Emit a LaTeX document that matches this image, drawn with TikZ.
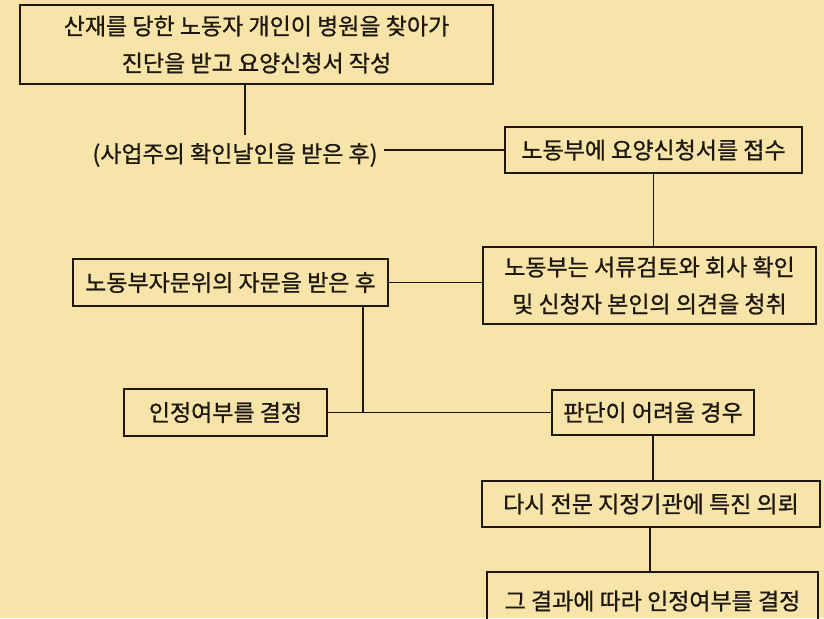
\documentclass[tikz,border=0pt]{standalone}
\usepackage{fontspec}
\newfontfamily\kr[FakeBold=0.9]{Noto Sans CJK KR}
\definecolor{paper}{RGB}{247,228,168}
\definecolor{ink}{RGB}{30,24,18}
\begin{document}
\begin{tikzpicture}[x=1pt,y=-1pt,
  box/.style={draw=ink,line width=2pt,inner sep=0pt,align=center,text=ink,
    font=\kr\fontsize{23}{37}\selectfont},
  lbl/.style={inner sep=0pt,text=ink,font=\kr\fontsize{23}{37}\selectfont},
  link/.style={draw=ink,line width=1.9pt}]
\clip (0,0) rectangle (824,618);
\fill[paper] (0,0) rectangle (824,618);
\useasboundingbox (0,0) rectangle (824,618);
\node[box,minimum width=473pt,minimum height=79pt] (b1) at (256.5,44.5)
  {산재를 당한 노동자 개인이 병원을 찾아가\\진단을 받고 요양신청서 작성};
\node[lbl] (l1) at (235,155) {(사업주의 확인날인을 받은 후)};
\node[box,minimum width=297pt,minimum height=46pt] (b2) at (653.5,150) {노동부에 요양신청서를 접수};
\node[box,minimum width=333pt,minimum height=77pt] (b4) at (649.5,285.5)
  {노동부는 서류검토와 회사 확인\\및 신청자 본인의 의견을 청취};
\node[box,minimum width=315pt,minimum height=47pt] (b5) at (230.5,282.5) {노동부자문위의 자문을 받은 후};
\node[box,minimum width=203pt,minimum height=47pt] (b6) at (225.5,412.5) {인정여부를 결정};
\node[box,minimum width=202pt,minimum height=45pt] (b7) at (653,412.5) {판단이 어려울 경우};
\node[box,minimum width=338pt,minimum height=46pt] (b8) at (651,504) {다시 전문 지정기관에 특진 의뢰};
\node[box,minimum width=331pt,minimum height=58pt] (b9) at (652.5,601) {그 결과에 따라 인정여부를 결정};
\coordinate (c1) at ([xshift=-11.5pt]b1.south |- 0,135);
\draw[link] ([xshift=-11.5pt]b1.south) -- (c1);
\draw[link] ([xshift=6pt]l1.east |- b2.west) -- (b2.west);
\draw[link] (b2.south) -- (b2.south |- b4.north);
\draw[link] (b5.east) -- (b5.east -| b4.west);
\coordinate (j) at ([xshift=132.5pt]b5.south |- b6.east);
\draw[link] ([xshift=132.5pt]b5.south) -- (j);
\draw[link] (b6.east) -- (b7.west);
\draw[link] (b7.south) -- (b7.south |- b8.north);
\draw[link] ([xshift=-1pt]b8.south) -- ([xshift=-1pt]b8.south |- b9.north);
\end{tikzpicture}
\end{document}
